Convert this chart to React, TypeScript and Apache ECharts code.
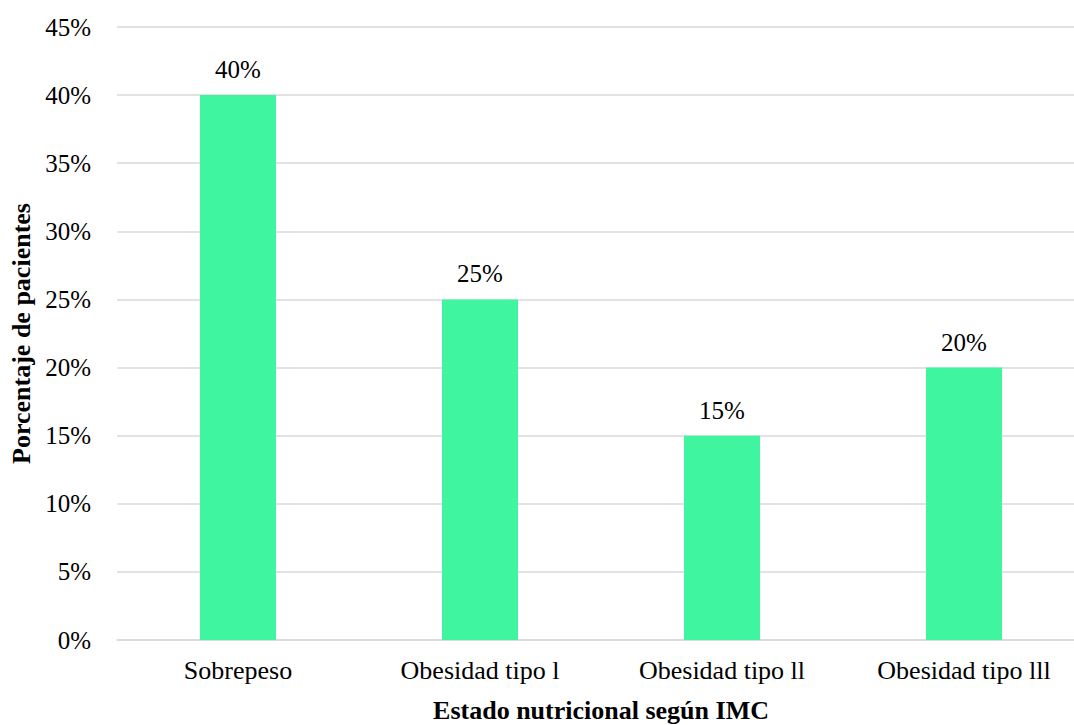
import React, { useEffect, useRef } from "react";
import * as echarts from "echarts";

const categories = ["Sobrepeso", "Obesidad tipo l", "Obesidad tipo ll", "Obesidad tipo lll"];
const values = [40, 25, 15, 20];
const yTicks = [0, 5, 10, 15, 20, 25, 30, 35, 40, 45];

const FONT = "Liberation Serif, Times New Roman, serif";

export default function App() {
  const ref = useRef<HTMLDivElement>(null);
  useEffect(() => {
    document.body.style.margin = "0";
    const chart = echarts.init(ref.current!, null, { renderer: "svg" });
    chart.setOption({
      animation: false,
      backgroundColor: "#ffffff",
      grid: { left: 117, right: 5, top: 27, bottom: 85, containLabel: false, outerBoundsMode: "none" },
      xAxis: {
        type: "category",
        data: categories,
        axisLine: { show: true, lineStyle: { color: "#d9d9d9", width: 1.5 } },
        axisTick: { show: false },
        axisLabel: { color: "#000", fontFamily: FONT, fontSize: 26, margin: 17 },
        name: "Estado nutricional según IMC",
        nameLocation: "middle",
        nameGap: 56,
        nameTextStyle: { color: "#000", fontFamily: FONT, fontSize: 26, fontWeight: "bold", lineHeight: 28 },
      },
      yAxis: {
        type: "value",
        min: yTicks[0],
        max: yTicks[yTicks.length - 1],
        interval: 5,
        axisLine: { show: false },
        axisTick: { show: false },
        splitLine: { lineStyle: { color: "#d9d9d9", width: 1.5 } },
        axisLabel: { color: "#000", fontFamily: FONT, fontSize: 25, margin: 26, formatter: "{value}%" },
        name: "Porcentaje de pacientes",
        nameLocation: "middle",
        nameGap: 81,
        nameTextStyle: { color: "#000", fontFamily: FONT, fontSize: 26, fontWeight: "bold" },
      },
      series: [
        {
          type: "bar",
          data: values,
          barWidth: 76,
          itemStyle: { color: "#40F5A0" },
          label: {
            show: true,
            position: "top",
            distance: 13,
            formatter: "{c}%",
            color: "#000",
            fontFamily: FONT,
            fontSize: 25,
          },
        },
      ],
    });
    return () => chart.dispose();
  }, []);
  return (
    <div style={{ width: 1074, height: 725, overflow: "hidden", position: "relative" }}>
      <div ref={ref} style={{ width: 1090, height: 725 }} />
    </div>
  );
}
